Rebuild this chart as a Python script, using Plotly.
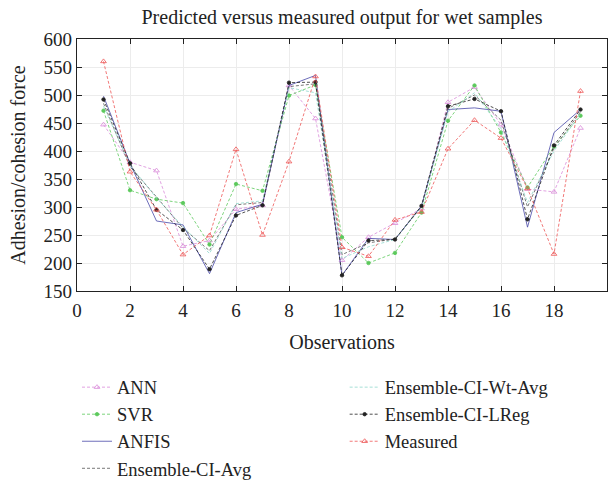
import plotly.graph_objects as go

# Beobachtungen 1..19
obs = list(range(1, 20))

ann = [447, 380, 365, 230, 240, 296, 303, 517, 458, 205, 246, 271, 297, 487, 514, 447, 332, 327, 441]
svr = [472, 330, 314, 307, 233, 341, 329, 499, 518, 246, 200, 218, 290, 454, 517, 433, 335, 408, 463]
anfis = [498, 378, 275, 268, 181, 290, 305, 517, 535, 178, 244, 242, 302, 474, 477, 471, 264, 433, 474]
ens_avg = [485, 372, 318, 262, 222, 304, 308, 515, 520, 215, 236, 243, 300, 476, 500, 455, 300, 405, 470]
ens_wt_avg = [480, 375, 316, 265, 217, 306, 311, 513, 504, 208, 229, 242, 300, 470, 504, 440, 308, 400, 467]
ens_lreg = [492, 378, 295, 259, 189, 285, 303, 522, 523, 178, 240, 242, 302, 480, 493, 471, 278, 410, 474]
measured = [560, 363, 295, 215, 249, 403, 250, 381, 533, 228, 212, 277, 291, 404, 455, 423, 333, 216, 507]

FONT = "Liberation Serif"
DASH = "3px,2px"
INK = "#222222"

# (name, values, color, dash, marker symbol, legend)
series = [
    ("ANN", ann, "#d98ad9", DASH, "triangle-up-open", "legend"),
    ("SVR", svr, "#5cc95c", DASH, "circle", "legend"),
    ("ANFIS", anfis, "#4848a8", "solid", None, "legend"),
    ("Ensemble-CI-Avg", ens_avg, "#555555", DASH, None, "legend"),
    ("Ensemble-CI-Wt-Avg", ens_wt_avg, "#8fd8cc", DASH, None, "legend2"),
    ("Ensemble-CI-LReg", ens_lreg, "#222222", DASH, "circle", "legend2"),
    ("Measured", measured, "#ee5555", DASH, "triangle-up-open", "legend2"),
]

fig = go.Figure()
for name, vals, col, dash, sym, leg in series:
    mode = "lines+markers" if sym else "lines"
    fig.add_trace(go.Scatter(
        x=obs, y=vals, name=name, mode=mode,
        line=dict(color=col, width=0.8, dash=dash),
        marker=dict(symbol=sym or "circle", size=5 if "triangle" in (sym or "") else 3.5,
                    color=col, line=dict(color=col, width=0.8)),
        legend=leg,
    ))

axis_common = dict(
    showline=True, linecolor=INK, linewidth=1.3, mirror="ticks",
    ticks="inside", ticklen=5, tickcolor=INK,
    showgrid=True, gridcolor="#ececec", gridwidth=1, zeroline=False,
    tickfont=dict(family=FONT, size=19, color=INK), automargin=False,
)

fig.update_xaxes(range=[0, 20], dtick=2, ticklabelstandoff=2,
                 title=dict(text="Observations", font=dict(family=FONT, size=20, color=INK), standoff=15),
                 **axis_common)
fig.update_yaxes(range=[150, 600], dtick=50,
                 title=dict(text="Adhesion/cohesion force", font=dict(family=FONT, size=20, color=INK), standoff=12),
                 **axis_common)

leg_style = dict(orientation="v", yanchor="top", xanchor="left", bgcolor="rgba(0,0,0,0)",
                 font=dict(family=FONT, size=18.5, color=INK), itemwidth=30)

fig.update_layout(
    width=616, height=481,
    margin=dict(l=77, r=9, t=38.5, b=190, autoexpand=False),
    paper_bgcolor="white", plot_bgcolor="white",
    font=dict(family=FONT, color=INK),
    title=dict(text="Predicted versus measured output for wet samples", x=0.5, xanchor="center",
               xref="paper", yref="container", y=0.9647, yanchor="middle",
               font=dict(family=FONT, size=20, color=INK)),
    legend=dict(x=0.0, y=-0.308, **leg_style),
    legend2=dict(x=0.505, y=-0.308, **leg_style),
)

# Seitenrand und Scrollbalken entfernen, damit die Grafik das Fenster genau füllt
fig.write_html(
    "out.html",
    config={"displayModeBar": False},
    post_script="document.body.style.margin='0';document.documentElement.style.overflow='hidden';",
)
